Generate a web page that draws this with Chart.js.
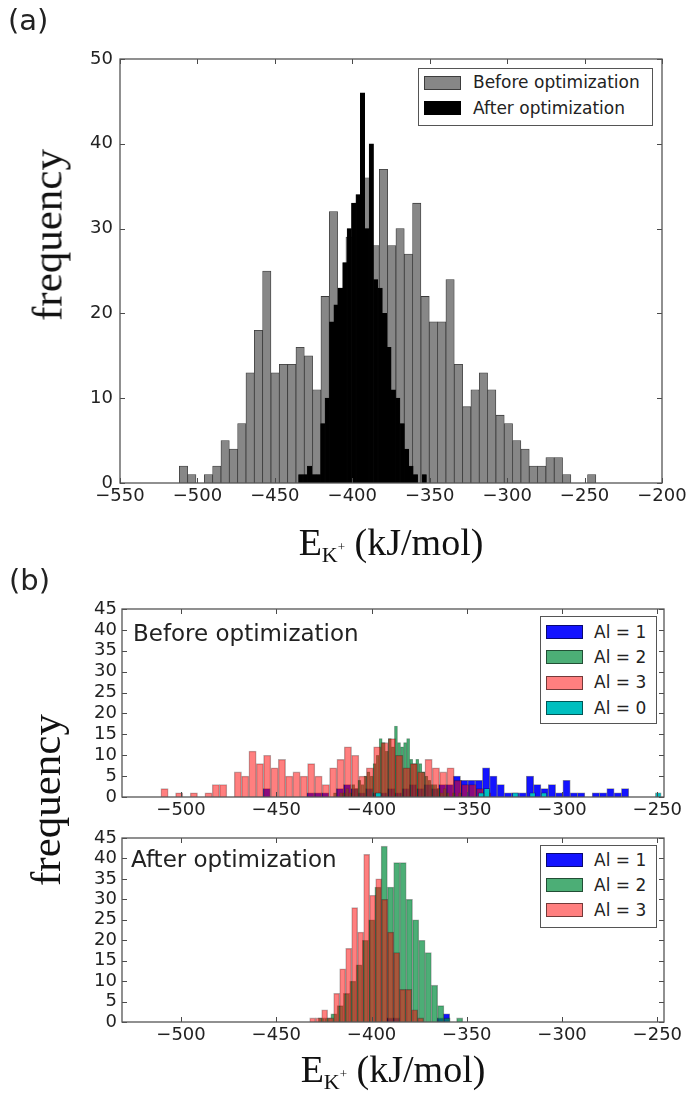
<!DOCTYPE html>
<html>
<head>
<meta charset="utf-8">
<script src="https://cdn.jsdelivr.net/npm/chart.js@4.4.0/dist/chart.umd.min.js"></script>
<style>
html,body{margin:0;padding:0;background:#fff;}
#page{position:relative;width:691px;height:1101px;overflow:hidden;background:#fff;}
#page canvas{position:absolute;left:0;top:0;}
.t{position:absolute;white-space:nowrap;line-height:1;color:#222;font-family:"DejaVu Sans",sans-serif;}
.serif{font-family:"Liberation Serif",serif;color:#111;}
.rot{transform:translate(-50%,-50%) rotate(-90deg);}
.ctr{transform:translateX(-50%);}
.sub{font-size:22px;position:relative;top:7px;}
.sup{font-size:13px;position:relative;top:-11px;}
.lgbox{position:absolute;box-sizing:border-box;border:1px solid #555;background:#fff;}
.patch{position:absolute;box-sizing:border-box;border:1px solid rgba(0,0,0,0.55);width:37px;height:14px;}
</style>
</head>
<body>
<div id="page">
  <canvas id="cA" width="691" height="1101"></canvas>
  <canvas id="cB1" width="691" height="1101"></canvas>
  <canvas id="cB2" width="691" height="1101"></canvas>
</div>
<script>
// ---------------- tick labels ----------------
const aXTicks = [-550, -500, -450, -400, -350, -300, -250, -200];
const aYTicks = [0, 10, 20, 30, 40, 50];
const bXTicks = [-500, -450, -400, -350, -300, -250];
const bYTicks = [0, 5, 10, 15, 20, 25, 30, 35, 40, 45];

// ---------------- panel (a) histograms ----------------
const aBeforeStart = -511.7, aBeforeWidth = 5.38;
const aBeforeCounts = [2,1,0,1,2,5,4,7,13,18,25,13,14,14,16,15,11,22,32,23,
                       29,33,36,28,37,28,30,27,33,22,19,19,24,14,9,11,13,11,8,7,
                       5,4,2,2,3,3,1,0,0,1];
const aAfterStart = -434.7, aAfterWidth = 2.848;
const aAfterCounts = [1,1,2,1,1,7,10,19,21,23,26,30,33,34,46,30,40,24,23,20,
                      16,11,10,7,4,2,1,0,1];

// ---------------- panel (b) top: before optimization ----------------
const bBeforeAl1Start = -457.0, bBeforeAl1Width = 3.84;
const bBeforeAl1Counts = [2,0,0,0,0,0,1,1,1,0,2,3,2,1,2,1,1,2,1,2,
                          3,2,3,2,3,3,5,4,4,4,7,5,3,1,1,1,5,3,2,3,
                          1,4,1,1,0,1,1,2,1,2];
const bBeforeAl2Start = -420.0, bBeforeAl2Width = 1.6;
const bBeforeAl2Counts = [1,0,1,1,2,1,3,2,4,3,5,6,5,8,10,14,13,11,14,12,
                          17,13,12,13,14,9,8,9,8,6,5,4,3,3,2,1,2,1,0,1,0,1];
const bBeforeAl3Start = -510.6, bBeforeAl3Width = 3.85;
const bBeforeAl3Counts = [2,0,1,0,1,0,1,3,3,0,6,5,11,8,10,7,9,5,6,5,
                          8,5,3,7,9,12,10,5,7,12,13,14,10,7,8,6,9,7,6,7,
                          4,3,3,2,1,0,0,0,0,0];
const bBeforeAl0Start = -398.0, bBeforeAl0Width = 3.0;
const bBeforeAl0Counts = [1,0,0,0,0,0,0,0,0,0,0,0,0,0,0,0,0,0,1,2,
                          0,0,0,0,1,0,0,1,0,1,0,0,0,0,0,0,0,0,0,0,
                          0,0,0,0,0,0,0,0,0,1];

// ---------------- panel (b) bottom: after optimization ----------------
const bAfterAl1Start = -392.0, bAfterAl1Width = 3.3;
const bAfterAl1Counts = [1,1,0,0,0,0,0,0,1,2];
const bAfterAl2Start = -428.0, bAfterAl2Width = 3.3;
const bAfterAl2Counts = [1,1,2,4,7,10,14,20,25,33,43,33,39,39,30,25,20,17,9,4,1,0,1];
const bAfterAl3Start = -432.5, bAfterAl3Width = 3.15;
const bAfterAl3Counts = [1,1,3,1,7,13,18,28,22,41,31,35,30,22,17,8,8,3,1];

// ---------------- styles ----------------
const COL_GRAY = '#878787', COL_BLACK = '#000000';
const COL_BLUE = 'rgba(0,0,255,0.92)';
const COL_GREEN = 'rgba(0,140,60,0.7)';
const COL_RED = 'rgba(255,0,0,0.5)';
const COL_CYAN = 'rgba(0,191,191,1)';
const tickFont = {family: 'DejaVu Sans', size: 18};
const minus = v => String(v).replace('-', '\u2212');

function hist(start, width, counts) {
  const pts = [];
  counts.forEach((c, i) => { if (c > 0) pts.push({x: start + width * (i + 0.5), y: c}); });
  return pts;
}

const framePlugin = {
  id: 'frame',
  afterDatasetsDraw(chart) {
    const {ctx, chartArea: a, scales} = chart;
    const x = scales.x, y = scales.y;
    ctx.save();
    ctx.strokeStyle = '#4a4a4a';
    ctx.lineWidth = 1;
    ctx.beginPath();
    x.ticks.forEach(t => {
      const p = Math.round(x.getPixelForValue(t.value)) + 0.5;
      ctx.moveTo(p, a.bottom); ctx.lineTo(p, a.bottom - 5);
      ctx.moveTo(p, a.top); ctx.lineTo(p, a.top + 5);
    });
    y.ticks.forEach(t => {
      const p = Math.round(y.getPixelForValue(t.value)) + 0.5;
      ctx.moveTo(a.left, p); ctx.lineTo(a.left + 5, p);
      ctx.moveTo(a.right, p); ctx.lineTo(a.right - 5, p);
    });
    ctx.stroke();
    ctx.lineWidth = 1.3;
    ctx.strokeStyle = '#555';
    ctx.strokeRect(a.left, a.top, a.right - a.left, a.bottom - a.top);
    ctx.restore();
  }
};

function buildChart(id, box, xRange, yRange, xTicks, yTicks, series, xPad, yPad) {
  const scales = {
    x: {type: 'linear', min: xRange[0], max: xRange[1], offset: false,
        grid: {display: false, drawTicks: false}, border: {display: false},
        afterBuildTicks: ax => { ax.ticks = xTicks.map(v => ({value: v})); },
        afterFit: ax => { ax.height = box.xh; },
        ticks: {font: tickFont, color: '#222', padding: xPad, autoSkip: false, maxRotation: 0, callback: minus}},
    y: {type: 'linear', min: yRange[0], max: yRange[1],
        grid: {display: false, drawTicks: false}, border: {display: false},
        afterBuildTicks: ax => { ax.ticks = yTicks.map(v => ({value: v})); },
        afterFit: ax => { ax.width = box.left; },
        ticks: {font: tickFont, color: '#222', padding: yPad, autoSkip: false, callback: minus}}
  };
  const datasets = series.map((s, i) => {
    const axisId = i === 0 ? 'x' : 'x' + i;
    if (i > 0) scales[axisId] = {type: 'linear', min: xRange[0], max: xRange[1], offset: false, display: false};
    return {type: 'bar', label: s.label, xAxisID: axisId, yAxisID: 'y',
            data: hist(s.start, s.width, s.counts),
            backgroundColor: s.fill, borderColor: s.edge, borderWidth: s.bw,
            borderSkipped: 'start', order: s.order, grouped: false,
            barPercentage: 1, categoryPercentage: 1};
  });
  return new Chart(document.getElementById(id), {
    type: 'bar',
    data: {datasets},
    options: {
      responsive: false, animation: false, devicePixelRatio: 1, events: [],
      layout: {padding: {left: 0, top: box.top, right: 691 - box.right, bottom: 1101 - box.bottom - box.xh}},
      plugins: {legend: {display: false}, tooltip: {enabled: false}},
      scales
    },
    plugins: [framePlugin]
  });
}

// panel (a)
buildChart('cA', {left: 120, top: 59, right: 662, bottom: 483, xh: 47},
  [-550, -200], [0, 50], aXTicks, aYTicks, [
    {label: 'Before optimization', start: aBeforeStart, width: aBeforeWidth, counts: aBeforeCounts,
     fill: COL_GRAY, edge: '#3a3a3a', bw: 0.8, order: 2},
    {label: 'After optimization', start: aAfterStart, width: aAfterWidth, counts: aAfterCounts,
     fill: COL_BLACK, edge: '#000', bw: 0.5, order: 1}
  ], 3, 7);

// panel (b) top
buildChart('cB1', {left: 122, top: 609, right: 664, bottom: 797, xh: 40},
  [-531, -246.5], [0, 45], bXTicks, bYTicks, [
    {label: 'Al = 1', start: bBeforeAl1Start, width: bBeforeAl1Width, counts: bBeforeAl1Counts,
     fill: COL_BLUE, edge: 'rgba(0,0,0,0.45)', bw: 0.8, order: 4},
    {label: 'Al = 2', start: bBeforeAl2Start, width: bBeforeAl2Width, counts: bBeforeAl2Counts,
     fill: COL_GREEN, edge: 'rgba(0,0,0,0.35)', bw: 0.5, order: 3},
    {label: 'Al = 3', start: bBeforeAl3Start, width: bBeforeAl3Width, counts: bBeforeAl3Counts,
     fill: COL_RED, edge: 'rgba(0,0,0,0.3)', bw: 0.8, order: 2},
    {label: 'Al = 0', start: bBeforeAl0Start, width: bBeforeAl0Width, counts: bBeforeAl0Counts,
     fill: COL_CYAN, edge: 'rgba(0,0,0,0.45)', bw: 0.8, order: 1}
  ], 3, 5);

// panel (b) bottom
buildChart('cB2', {left: 122, top: 838, right: 664, bottom: 1022, xh: 40},
  [-531, -246.5], [0, 45], bXTicks, bYTicks, [
    {label: 'Al = 1', start: bAfterAl1Start, width: bAfterAl1Width, counts: bAfterAl1Counts,
     fill: COL_BLUE, edge: 'rgba(0,0,0,0.45)', bw: 0.8, order: 3},
    {label: 'Al = 2', start: bAfterAl2Start, width: bAfterAl2Width, counts: bAfterAl2Counts,
     fill: COL_GREEN, edge: 'rgba(0,0,0,0.35)', bw: 0.8, order: 2},
    {label: 'Al = 3', start: bAfterAl3Start, width: bAfterAl3Width, counts: bAfterAl3Counts,
     fill: COL_RED, edge: 'rgba(0,0,0,0.3)', bw: 0.8, order: 1}
  ], 3, 5);

// ---------------- HTML text & legends ----------------
const page = document.getElementById('page');
function text(html, x, baseline, size, cls, extra) {
  const el = document.createElement('div');
  el.className = 't ' + (cls || '');
  el.innerHTML = html;
  const k = (cls || '').includes('serif') ? 0.8375 : 0.846;
  el.style.fontSize = size + 'px';
  el.style.left = x + 'px';
  el.style.top = (baseline - k * size) + 'px';
  if (extra) Object.assign(el.style, extra);
  page.appendChild(el);
  return el;
}
function rotText(html, cx, cy, size) {
  const el = document.createElement('div');
  el.className = 't serif rot';
  el.innerHTML = html;
  el.style.fontSize = size + 'px';
  el.style.left = cx + 'px';
  el.style.top = cy + 'px';
  page.appendChild(el);
}
function legend(box, patchX, textX, entries) {
  const lg = document.createElement('div');
  lg.className = 'lgbox';
  Object.assign(lg.style, {left: box.l + 'px', top: box.t + 'px', width: (box.r - box.l) + 'px', height: (box.b - box.t) + 'px'});
  page.appendChild(lg);
  entries.forEach(e => {
    const p = document.createElement('div');
    p.className = 'patch';
    Object.assign(p.style, {left: patchX + 'px', top: (e.cy - 7) + 'px', background: e.color});
    page.appendChild(p);
    text(e.label, textX, e.cy + 6.2, 17);
  });
}

text('(a)', 8, 31, 29);
text('(b)', 9, 591, 29);
rotText('frequency', 47, 235, 43);
rotText('frequency', 45, 800, 43);
const xl = 'E<span class="sub">K<span class="sup">+</span></span> (kJ/mol)';
text(xl, 391, 555, 38, 'serif ctr');
text(xl, 393, 1082, 38, 'serif ctr');
text('Before optimization', 133, 641, 23);
text('After optimization', 131, 867, 23);

legend({l: 418, t: 68, r: 653, b: 126}, 424, 473, [
  {label: 'Before optimization', color: COL_GRAY, cy: 82.5},
  {label: 'After optimization', color: COL_BLACK, cy: 108}
]);
legend({l: 540, t: 616, r: 657, b: 724}, 546, 594, [
  {label: 'Al = 1', color: COL_BLUE, cy: 632},
  {label: 'Al = 2', color: COL_GREEN, cy: 657},
  {label: 'Al = 3', color: COL_RED, cy: 682.5},
  {label: 'Al = 0', color: COL_CYAN, cy: 708}
]);
legend({l: 540, t: 845, r: 657, b: 928}, 546, 594, [
  {label: 'Al = 1', color: COL_BLUE, cy: 860},
  {label: 'Al = 2', color: COL_GREEN, cy: 885},
  {label: 'Al = 3', color: COL_RED, cy: 910}
]);
</script>
</body>
</html>
